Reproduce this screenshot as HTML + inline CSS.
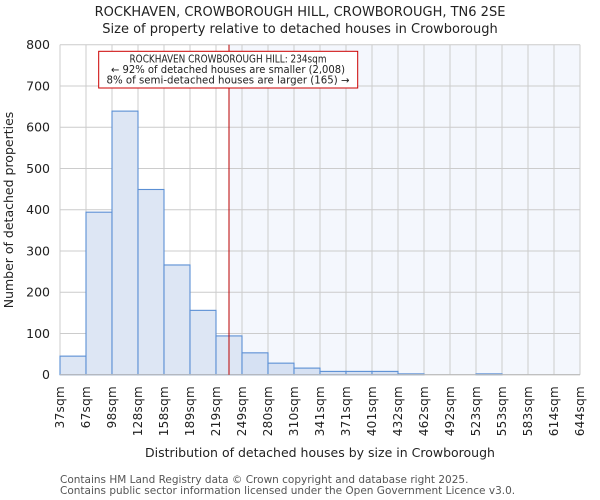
<!DOCTYPE html>
<html><head><meta charset="utf-8"><style>
body{margin:0;background:#fff;}
svg{display:block;font-family:"DejaVu Sans","Liberation Sans",sans-serif;}
</style></head><body>
<svg id="chart" width="600" height="500" viewBox="0 0 600 500" xmlns="http://www.w3.org/2000/svg">
<text x="300" y="16" text-anchor="middle" font-size="13" fill="#222">ROCKHAVEN, CROWBOROUGH HILL, CROWBOROUGH, TN6 2SE</text>
<text x="300" y="33" text-anchor="middle" font-size="13" fill="#222">Size of property relative to detached houses in Crowborough</text>
<g id="grid"></g>
<g id="bars"></g>
<g id="axes"></g>
<text transform="translate(13,210) rotate(-90)" text-anchor="middle" font-size="12.5" fill="#222">Number of detached properties</text>
<text x="320" y="457" text-anchor="middle" font-size="12.5" fill="#222">Distribution of detached houses by size in Crowborough</text>
<text x="60" y="483" font-size="10.5" fill="#555">Contains HM Land Registry data © Crown copyright and database right 2025.</text>
<text x="60" y="494" font-size="10.5" fill="#555">Contains public sector information licensed under the Open Government Licence v3.0.</text>
</svg>
<script>
const binLabels=["37sqm","67sqm","98sqm","128sqm","158sqm","189sqm","219sqm","249sqm","280sqm","310sqm","341sqm","371sqm","401sqm","432sqm","462sqm","492sqm","523sqm","553sqm","583sqm","614sqm","644sqm"];
const binEdges=[37,67,98,128,158,189,219,249,280,310,341,371,401,432,462,492,523,553,583,614,644];
const counts=[45,394,639,449,266,156,94,53,28,16,8,8,8,2,0,0,2,0,0,0];
const yTicks=[0,100,200,300,400,500,600,700,800];
const subjectSize=234;
const annotationLines=["ROCKHAVEN CROWBOROUGH HILL: 234sqm","← 92% of detached houses are smaller (2,008)","8% of semi-detached houses are larger (165) →"];

const NS="http://www.w3.org/2000/svg";
const L=60,R=580,T=44.7,B=374.7,YMAX=800;
const nb=counts.length, bw=(R-L)/nb;
const xi=i=>L+i*bw;
const y=v=>B-(v/YMAX)*(B-T);
const xVal=v=>{for(let i=0;i<binEdges.length-1;i++){if(v>=binEdges[i]&&v<=binEdges[i+1])return xi(i)+(v-binEdges[i])/(binEdges[i+1]-binEdges[i])*bw;}return R;};
function mk(t,a,p){const e=document.createElementNS(NS,t);for(const k in a)e.setAttribute(k,a[k]);p.appendChild(e);return e;}
const grid=document.getElementById('grid'),bars=document.getElementById('bars'),axes=document.getElementById('axes');
const lx=xVal(subjectSize);
const sh=mk('rect',{x:lx,y:T,width:R-lx,height:B-T,fill:'#f4f7fd'},grid);


yTicks.forEach(v=>{
 const g=mk('line',{x1:L,x2:R,y1:y(v),y2:y(v),stroke:'#cccccc','stroke-width':1},grid);
 
 
 const t=mk('text',{x:L-10,y:y(v)+4.5,'text-anchor':'end','font-size':12.5,fill:'#222'},axes);
 t.textContent=v;
 
 
});
binLabels.forEach((lab,i)=>{
 const g=mk('line',{x1:xi(i),x2:xi(i),y1:T,y2:B,stroke:'#cccccc','stroke-width':1},grid);
 
 
 const t=mk('text',{transform:`translate(${xi(i)+4},386) rotate(-90)`,'text-anchor':'end','font-size':12,fill:'#222','letter-spacing':'0.3'},axes);
 t.textContent=lab;
 
 
});
counts.forEach((c,i)=>{
 if(c<=0)return;
 const r=mk('rect',{x:xi(i),y:y(c),width:bw,height:B-y(c),fill:xi(i)>=lx?'#d6e1f3':'#dde6f4',stroke:'#5b8fd4','stroke-width':1.1},bars);
 
 
});
const ax=mk('line',{x1:L,x2:R,y1:B,y2:B,stroke:'#bbbbbb','stroke-width':1.2},axes);


const ml=mk('line',{x1:lx,x2:lx,y1:T,y2:B,stroke:'#bb0000','stroke-width':1},axes);


const box=mk('rect',{x:98.7,y:51.3,width:259,height:36.7,fill:'#fff',stroke:'#cc0000','stroke-width':1},axes);


annotationLines.forEach((s,i)=>{
 const t=mk('text',{x:228,y:62.5+i*10.5,'text-anchor':'middle','font-size':10.3,fill:'#222',textLength:i==0?197:(i==1?234:243),lengthAdjust:'spacingAndGlyphs'},axes);
 t.textContent=s;
 
 
});
</script>
</body></html>
